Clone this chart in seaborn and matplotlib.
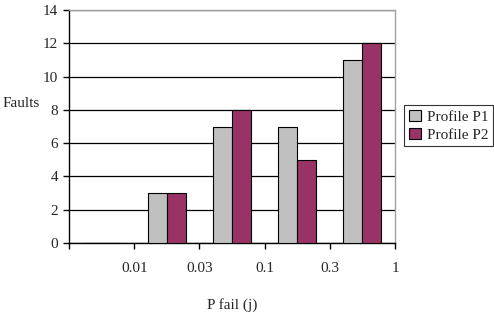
import pandas as pd
import matplotlib
matplotlib.use("Agg")
import matplotlib.pyplot as plt
import seaborn as sns

# data
categories = ["<0.01", "0.01-0.03", "0.03-0.1", "0.1-0.3", "0.3-1"]
profile_p1 = [0, 3, 7, 7, 11]
profile_p2 = [0, 3, 8, 5, 12]
boundary_labels = ["", "0.01", "0.03", "0.1", "0.3", "1"]
y_ticks = [0, 2, 4, 6, 8, 10, 12, 14]

df = pd.DataFrame({
    "bin": categories * 2,
    "faults": profile_p1 + profile_p2,
    "profile": ["Profile P1"] * len(categories) + ["Profile P2"] * len(categories),
})

sns.set_style("white")
plt.rcParams["font.family"] = ["Liberation Serif", "DejaVu Serif"]
fs = 11

fig = plt.figure(figsize=(4.94, 3.12), dpi=100)
ax = fig.add_axes([69 / 494, 1 - 243 / 312, 326 / 494, 233 / 312])

sns.barplot(data=df, x="bin", y="faults", hue="profile", order=categories,
            palette=["#C0C0C0", "#993366"], saturation=1, edgecolor="black",
            linewidth=0.8, width=0.58, errorbar=None, ax=ax, zorder=3)

# gridlines and frame
ax.set_ylim(0, 14)
ax.set_yticks(y_ticks)
ax.yaxis.grid(True, color="black", linewidth=0.9, zorder=0)
ax.set_axisbelow(True)
for side in ["left", "bottom"]:
    ax.spines[side].set_color("black")
    ax.spines[side].set_linewidth(1.0)
for side in ["top", "right"]:
    ax.spines[side].set_visible(True)
    ax.spines[side].set_color("#a0a0a0")
    ax.spines[side].set_linewidth(1.0)

# category boundaries carry the labels
ax.set_xlim(-0.5, len(categories) - 0.5)
ax.set_xticks([i - 0.5 for i in range(len(boundary_labels))])
ax.set_xticklabels(boundary_labels)
ax.tick_params(axis="x", direction="out", length=4, width=1, color="black", pad=10, labelsize=fs)
ax.tick_params(axis="y", direction="out", length=4, width=1, color="black", pad=4, labelsize=fs)
ax.tick_params(bottom=True, left=True)

ax.set_xlabel("P fail (j)", fontsize=fs, labelpad=16)
ax.set_ylabel("Faults", rotation=0, fontsize=fs, ha="center", va="center")
ax.yaxis.set_label_coords(-0.146, 0.60)

leg = ax.legend(loc="upper left", bbox_to_anchor=(404 / 494, 1 - 105 / 312),
                bbox_transform=fig.transFigure, borderaxespad=0, fancybox=False,
                frameon=True, fontsize=fs, handlelength=0.8, handleheight=0.8,
                handletextpad=0.4, borderpad=0.3, labelspacing=0.25)
leg.get_frame().set_edgecolor("black")
leg.get_frame().set_linewidth(0.8)

fig.savefig("out.png", dpi=100)
